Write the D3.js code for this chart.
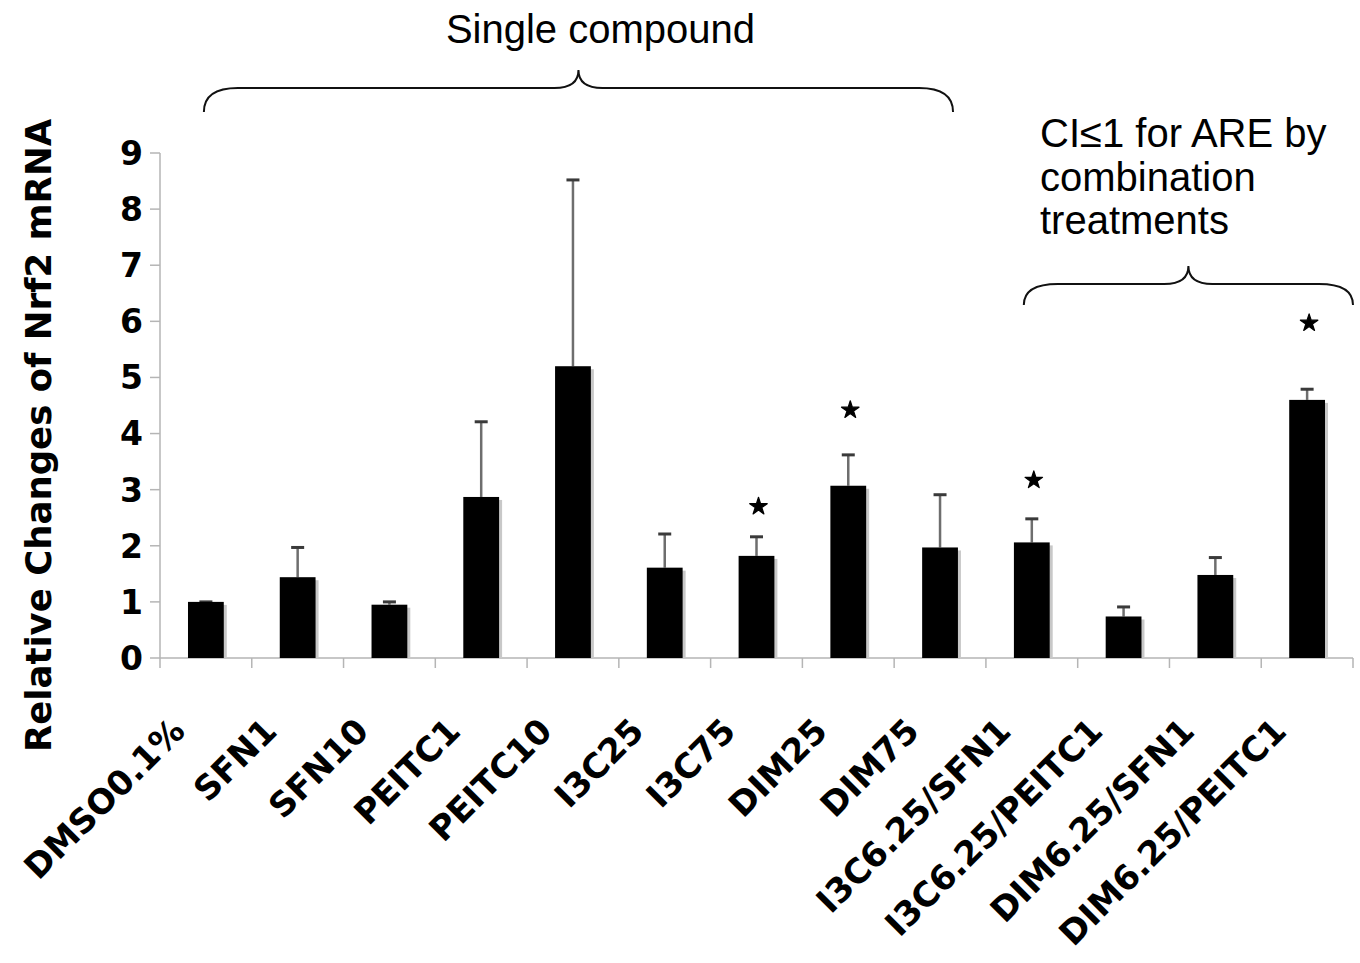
<!DOCTYPE html>
<html>
<head>
<meta charset="utf-8">
<script src="https://cdn.jsdelivr.net/npm/d3@7"></script>
<style>
  body { margin: 0; background: #fff; }
  svg { display: block; }
</style>
</head>
<body>
<div class="chart"></div>
<script>
// treatment groups, as on the x axis
const categories = ["DMSO0.1%", "SFN1", "SFN10", "PEITC1", "PEITC10", "I3C25", "I3C75",
  "DIM25", "DIM75", "I3C6.25/SFN1", "I3C6.25/PEITC1", "DIM6.25/SFN1", "DIM6.25/PEITC1"];

// relative change of Nrf2 mRNA (bar height)
const values = [1.0, 1.44, 0.95, 2.87, 5.2, 1.61, 1.82, 3.07, 1.97, 2.06, 0.74, 1.48, 4.6];

// top of the error bar
const errTop = [1.0, 1.97, 1.0, 4.21, 8.52, 2.21, 2.16, 3.62, 2.91, 2.48, 0.91, 1.79, 4.79];

// significance marks (value where the star sits, null = none)
const starAt = [null, null, null, null, null, null, 2.7, 4.42, null, 3.17, null, null, 5.97];

const yTicks = [0, 1, 2, 3, 4, 5, 6, 7, 8, 9];

const width = 1360;
const height = 963;

const axisLeft = 160;
const axisRight = 1353;
const axisBottom = 658;
const axisTop = 153;

const svg = d3.select(".chart")
    .append("svg")
    .attr("width", width)
    .attr("height", height);

const x = d3.scaleBand()
    .domain(categories)
    .range([axisLeft, axisRight])
    .paddingInner(0.61)
    .paddingOuter(0.305);

const y = d3.scaleLinear()
    .domain([0, 9])
    .range([axisBottom, axisTop]);

const bw = x.bandwidth();
const step = x.step();

// axes (light grey lines like the Excel original)
svg.append("line")
    .attr("x1", axisLeft).attr("x2", axisLeft)
    .attr("y1", y(9)).attr("y2", y(0))
    .attr("stroke", "#b5b5b5").attr("stroke-width", 1.5);

svg.selectAll(".ytick")
    .data(yTicks)
    .enter()
    .append("line")
    .attr("class", "ytick")
    .attr("x1", axisLeft - 10).attr("x2", axisLeft)
    .attr("y1", d => y(d)).attr("y2", d => y(d))
    .attr("stroke", "#b5b5b5").attr("stroke-width", 1.5);

svg.selectAll(".ylabel")
    .data(yTicks)
    .enter()
    .append("text")
    .attr("class", "ylabel")
    .attr("x", axisLeft - 17)
    .attr("y", d => y(d))
    .attr("dy", "0.36em")
    .attr("text-anchor", "end")
    .style("font-family", "'DejaVu Sans', Verdana, sans-serif")
    .style("font-weight", "bold")
    .style("font-size", "33px")
    .text(d => d);

svg.append("line")
    .attr("x1", axisLeft).attr("x2", axisRight)
    .attr("y1", y(0)).attr("y2", y(0))
    .attr("stroke", "#b5b5b5").attr("stroke-width", 1.5);

// category boundary ticks
svg.selectAll(".xtick")
    .data(d3.range(categories.length + 1))
    .enter()
    .append("line")
    .attr("class", "xtick")
    .attr("x1", i => axisLeft + i * step).attr("x2", i => axisLeft + i * step)
    .attr("y1", y(0)).attr("y2", y(0) + 10)
    .attr("stroke", "#b5b5b5").attr("stroke-width", 1.5);

// y axis title
svg.append("text")
    .attr("transform", "translate(" + [51, (y(0) + y(9)) / 2 + 30] + ") rotate(-90)")
    .attr("text-anchor", "middle")
    .style("font-family", "'DejaVu Sans', Verdana, sans-serif")
    .style("font-weight", "bold")
    .style("font-size", "35.5px")
    .text("Relative Changes of Nrf2 mRNA");

// bar shadows then bars
svg.selectAll(".shadow")
    .data(values)
    .enter()
    .append("rect")
    .attr("class", "shadow")
    .attr("x", (d, i) => x(categories[i]) + 3)
    .attr("y", d => y(d) + 3)
    .attr("width", bw)
    .attr("height", d => y(0) - y(d) - 3)
    .style("fill", "#c8c8c8");

// error bars (upper half only)
const err = svg.selectAll(".err")
    .data(errTop)
    .enter()
    .append("g")
    .attr("class", "err");

err.append("line")
    .attr("x1", (d, i) => x(categories[i]) + bw / 2)
    .attr("x2", (d, i) => x(categories[i]) + bw / 2)
    .attr("y1", (d, i) => y(values[i]))
    .attr("y2", d => y(d))
    .attr("stroke", "#6e6e6e").attr("stroke-width", 2.5);

err.append("line")
    .attr("x1", (d, i) => x(categories[i]) + bw / 2 - 6.5)
    .attr("x2", (d, i) => x(categories[i]) + bw / 2 + 6.5)
    .attr("y1", d => y(d))
    .attr("y2", d => y(d))
    .attr("stroke", "#3a3a3a").attr("stroke-width", 3);

svg.selectAll(".bar")
    .data(values)
    .enter()
    .append("rect")
    .attr("class", "bar")
    .attr("x", (d, i) => x(categories[i]))
    .attr("y", d => y(d))
    .attr("width", bw)
    .attr("height", d => y(0) - y(d))
    .style("fill", "#000");

// significance stars
svg.selectAll(".star")
    .data(starAt.map((v, i) => ({ v: v, c: categories[i] })).filter(d => d.v !== null))
    .enter()
    .append("path")
    .attr("class", "star")
    .attr("d", d3.symbol(d3.symbolStar).size(95))
    .attr("transform", d => "translate(" + [x(d.c) + bw / 2 + 2, y(d.v)] + ")")
    .style("fill", "#000")
    .style("stroke", "#000")
    .style("stroke-width", 1.2)
    .style("stroke-linejoin", "round");

// x labels, rotated
svg.selectAll(".xlabel")
    .data(categories)
    .enter()
    .append("text")
    .attr("class", "xlabel")
    .attr("transform", d => "translate(" + [x(d) + bw / 2 - 19, y(0) + 75] + ") rotate(-45)")
    .attr("text-anchor", "end")
    .style("font-family", "'DejaVu Sans', Verdana, sans-serif")
    .style("font-weight", "bold")
    .style("font-size", "34px")
    .text(d => d);

// curly braces above the groups
function brace(x0, x1, yEnd, yFlat, yTip) {
  const xm = (x0 + x1) / 2;
  const q = 34, t = 24;
  const p = d3.path();
  p.moveTo(x0, yEnd);
  p.quadraticCurveTo(x0, yFlat, x0 + q, yFlat);
  p.lineTo(xm - t, yFlat);
  p.quadraticCurveTo(xm, yFlat, xm, yTip);
  p.quadraticCurveTo(xm, yFlat, xm + t, yFlat);
  p.lineTo(x1 - q, yFlat);
  p.quadraticCurveTo(x1, yFlat, x1, yEnd);
  return p.toString();
}

const singleFrom = x("DMSO0.1%") + bw / 2 - 2;
const singleTo = x("DIM75") + bw / 2 + 13;
const comboFrom = x("I3C6.25/SFN1") + bw / 2 - 8;
const comboTo = axisRight;

svg.append("path")
    .attr("d", brace(singleFrom, singleTo, 112, 88, 70))
    .attr("fill", "none").attr("stroke", "#111").attr("stroke-width", 2);

svg.append("path")
    .attr("d", brace(comboFrom, comboTo, 305, 284, 266))
    .attr("fill", "none").attr("stroke", "#111").attr("stroke-width", 2);

svg.append("text")
    .attr("x", (singleFrom + singleTo) / 2 + 22)
    .attr("y", 43)
    .attr("text-anchor", "middle")
    .style("font-family", "'Liberation Sans', Arial, sans-serif")
    .style("font-size", "40px")
    .text("Single compound");

const comboLines = ["CI≤1 for ARE by", "combination", "treatments"];
svg.selectAll(".combo")
    .data(comboLines)
    .enter()
    .append("text")
    .attr("class", "combo")
    .attr("x", 1040)
    .attr("y", (d, i) => 147 + i * 43.5)
    .style("font-family", "'Liberation Sans', Arial, sans-serif")
    .style("font-size", "40px")
    .text(d => d);
</script>
</body>
</html>
